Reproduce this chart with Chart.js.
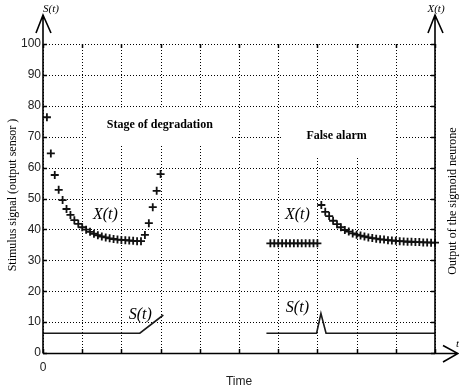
<!DOCTYPE html>
<html>
<head>
<meta charset="utf-8">
<script src="https://cdn.jsdelivr.net/npm/chart.js@4.4.0/dist/chart.umd.min.js"></script>
<style>
  html, body { margin: 0; padding: 0; background: #fff; }
  canvas { display: block; }
</style>
</head>
<body>
<canvas id="c" width="459" height="392"></canvas>
<script>
// Neurone output X(t) during the degradation stage
const degradeTime = [0.1, 0.2, 0.3, 0.4, 0.5, 0.6, 0.7, 0.8, 0.9, 1.0,
                     1.1, 1.2, 1.3, 1.4, 1.5, 1.6, 1.7, 1.8, 1.9, 2.0,
                     2.1, 2.2, 2.3, 2.4, 2.5, 2.6, 2.7, 2.8, 2.9, 3.0];
const degradeOutput = [76.3, 64.6, 57.6, 52.8, 49.5, 46.6, 44.7, 43.0, 41.8, 40.7,
                       39.9, 39.2, 38.6, 38.1, 37.7, 37.4, 37.1, 36.9, 36.7, 36.6,
                       36.5, 36.4, 36.3, 36.2, 36.2, 38.2, 42.0, 47.2, 52.5, 57.9];

// Neurone output X(t) around the false alarm
const alarmTime = [5.8, 5.9, 6.0, 6.1, 6.2, 6.3, 6.4, 6.5, 6.6, 6.7, 6.8, 6.9, 7.0,
                   7.1, 7.2, 7.3, 7.4, 7.5, 7.6, 7.7, 7.8, 7.9, 8.0,
                   8.1, 8.2, 8.3, 8.4, 8.5, 8.6, 8.7, 8.8, 8.9, 9.0,
                   9.1, 9.2, 9.3, 9.4, 9.5, 9.6, 9.7, 9.8, 9.9, 10.0];
const alarmOutput = [35.5, 35.5, 35.5, 35.5, 35.5, 35.5, 35.5, 35.5, 35.5, 35.5, 35.5, 35.5, 35.5,
                     47.9, 45.7, 44.3, 42.8, 41.7, 40.7, 39.8, 39.3, 38.7, 38.3,
                     38.0, 37.7, 37.4, 37.2, 37.0, 36.8, 36.7, 36.5, 36.4, 36.3,
                     36.2, 36.1, 36.0, 36.0, 35.9, 35.9, 35.8, 35.8, 35.7, 35.7];

// Stimulus S(t) from the sensor
const stimDegradeTime = [0, 2.47, 3.07];
const stimDegradeValue = [6.4, 6.4, 12.3];
const stimAlarmTime = [5.7, 6.98, 7.09, 7.22, 10];
const stimAlarmValue = [6.4, 6.4, 12.8, 6.4, 6.4];

// Grid positions
const xGrid = [0, 1, 2, 3, 4, 5, 6, 7, 8, 9, 10];
const yGrid = [0, 10, 20, 30, 40, 50, 60, 70, 80, 90, 100];

const pts = (xs, ys) => xs.map((x, i) => ({ x, y: ys[i] }));

const SERIF = '"Liberation Serif", "Times New Roman", serif';
const SANS = '"Liberation Sans", Arial, sans-serif';

// Text notes placed in data units: [text, x, y, font, box(x0,x1,y0,y1) or null]
const notes = [
  ['Stage of degradation', 2.98, 73.8, 'bold 12px ' + SERIF, [1.12, 4.82, 79.5, 67.0]],
  ['False alarm', 7.49, 70.4, 'bold 12px ' + SERIF, [6.1, 8.98, 79.5, 63.4]],
  ['X(t)', 1.59, 44.6, 'italic 16px ' + SERIF, null],
  ['X(t)', 6.49, 44.6, 'italic 16px ' + SERIF, null],
  ['S(t)', 2.48, 12.5, 'italic 16px ' + SERIF, null],
  ['S(t)', 6.49, 14.5, 'italic 16px ' + SERIF, null]
];

const decor = {
  id: 'decor',
  beforeDatasetsDraw(chart) {
    const { ctx, chartArea: a, scales: { x, y } } = chart;
    ctx.save();
    // dotted grid
    ctx.strokeStyle = '#000';
    ctx.lineWidth = 1;
    ctx.setLineDash([1, 2]);
    ctx.beginPath();
    xGrid.forEach(v => {
      const px = Math.round(x.getPixelForValue(v)) + 0.5;
      ctx.moveTo(px, a.top); ctx.lineTo(px, a.bottom);
    });
    yGrid.forEach(v => {
      const py = Math.round(y.getPixelForValue(v)) + 0.5;
      ctx.moveTo(a.left, py); ctx.lineTo(a.right, py);
    });
    ctx.stroke();
    ctx.setLineDash([]);
    // notes with white backgrounds
    ctx.fillStyle = '#000';
    ctx.textAlign = 'center';
    ctx.textBaseline = 'middle';
    notes.forEach(([text, vx, vy, font, box]) => {
      if (box) {
        const x0 = x.getPixelForValue(box[0]), x1 = x.getPixelForValue(box[1]);
        const y0 = y.getPixelForValue(box[2]), y1 = y.getPixelForValue(box[3]);
        ctx.fillStyle = '#fff';
        ctx.fillRect(x0, y0, x1 - x0, y1 - y0);
        ctx.fillStyle = '#000';
      }
      ctx.font = font;
      ctx.fillText(text, x.getPixelForValue(vx), y.getPixelForValue(vy));
    });
    ctx.restore();
  },
  afterDraw(chart) {
    const { ctx, chartArea: a, scales: { x, y } } = chart;
    ctx.save();
    ctx.strokeStyle = '#000';
    ctx.lineCap = 'butt';
    // small inward ticks
    ctx.lineWidth = 1.5;
    ctx.beginPath();
    xGrid.forEach(v => {
      const px = Math.round(x.getPixelForValue(v)) + 0.5;
      ctx.moveTo(px, a.bottom); ctx.lineTo(px, a.bottom - 4);
      ctx.moveTo(px, a.top); ctx.lineTo(px, a.top + 4);
    });
    yGrid.forEach(v => {
      const py = Math.round(y.getPixelForValue(v)) + 0.5;
      ctx.moveTo(a.left, py); ctx.lineTo(a.left + 4, py);
      ctx.moveTo(a.right, py); ctx.lineTo(a.right - 4, py);
    });
    ctx.stroke();
    // axes with arrows
    const bx = a.bottom + 0.5;
    ctx.lineWidth = 1.6;
    ctx.beginPath();
    ctx.moveTo(a.left, bx); ctx.lineTo(a.left, 15);
    ctx.moveTo(a.left - 7, 33); ctx.lineTo(a.left, 15); ctx.lineTo(a.left + 8, 33);
    ctx.moveTo(a.right, bx); ctx.lineTo(a.right, 15);
    ctx.moveTo(a.right - 7, 33); ctx.lineTo(a.right, 15); ctx.lineTo(a.right + 8, 33);
    ctx.moveTo(a.left, bx); ctx.lineTo(458, bx);
    ctx.moveTo(443, bx - 8); ctx.lineTo(458, bx); ctx.lineTo(443, bx + 8.5);
    ctx.stroke();
    // axis names at the arrow heads
    ctx.fillStyle = '#000';
    ctx.textAlign = 'center';
    ctx.textBaseline = 'middle';
    ctx.font = 'italic 11px ' + SERIF;
    ctx.fillText('S(t)', a.left + 8, 9);
    ctx.fillText('X(t)', a.right + 1, 9);
    ctx.textAlign = 'left';
    ctx.fillText('t', 456, bx - 9);
    // side titles
    ctx.font = '12px ' + SERIF;
    ctx.textAlign = 'center';
    ctx.save();
    ctx.translate(13, 195);
    ctx.rotate(-Math.PI / 2);
    ctx.fillText('Stimulus signal (output sensor )', 0, 0);
    ctx.restore();
    ctx.save();
    ctx.translate(453, 201);
    ctx.rotate(-Math.PI / 2);
    ctx.fillText('Output of the sigmoid neurone', 0, 0);
    ctx.restore();
    ctx.restore();
  }
};

const markerStyle = {
  showLine: false,
  pointStyle: 'cross',
  pointRadius: 4,
  pointBorderWidth: 1.8,
  pointBorderColor: '#111',
  borderColor: '#111',
  clip: false
};
const stimStyle = {
  showLine: true,
  pointRadius: 0,
  borderWidth: 1.6,
  borderColor: '#1a1a1a',
  tension: 0,
  clip: false
};

new Chart(document.getElementById('c'), {
  type: 'line',
  data: {
    datasets: [
      Object.assign({ label: 'X(t) degradation', data: pts(degradeTime, degradeOutput) }, markerStyle),
      Object.assign({ label: 'X(t) false alarm', data: pts(alarmTime, alarmOutput) }, markerStyle),
      Object.assign({ label: 'S(t) degradation', data: pts(stimDegradeTime, stimDegradeValue) }, stimStyle),
      Object.assign({ label: 'S(t) false alarm', data: pts(stimAlarmTime, stimAlarmValue) }, stimStyle)
    ]
  },
  options: {
    responsive: false,
    animation: false,
    devicePixelRatio: 1,
    layout: { padding: { top: 44, right: 24, left: 0, bottom: 0 } },
    plugins: { legend: { display: false }, tooltip: { enabled: false } },
    scales: {
      x: {
        type: 'linear', min: 0, max: 10,
        grid: { display: false, drawTicks: false }, border: { display: false },
        ticks: {
          stepSize: 1, autoSkip: false, maxRotation: 0, padding: 7,
          color: '#222', font: { family: SANS, size: 12 },
          callback: v => (v === 0 ? '0' : '')
        },
        title: {
          display: true, text: 'Time', color: '#222',
          font: { family: SANS, size: 12 }, padding: { top: 0, bottom: 3 }
        },
        afterFit(s) { s.height = 39; }
      },
      y: {
        min: 0, max: 100,
        grid: { display: false, drawTicks: false }, border: { display: false },
        ticks: { stepSize: 10, padding: 2, color: '#222', font: { family: SANS, size: 12 } },
        afterFit(s) { s.width = 43; }
      }
    }
  },
  plugins: [decor]
});
</script>
</body>
</html>
